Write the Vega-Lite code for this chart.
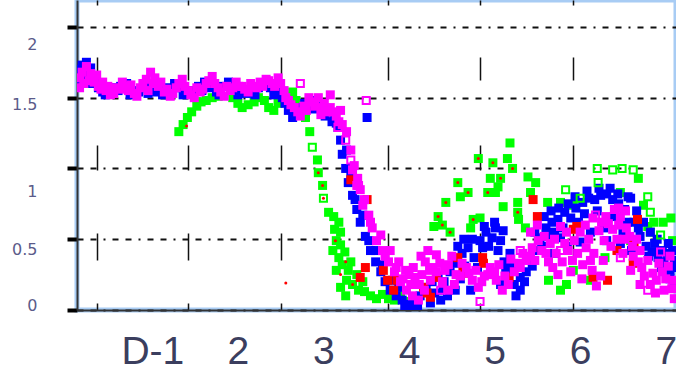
{
"$schema": "https://vega.github.io/schema/vega-lite/v6.json",
"width": 599,
"height": 310,
"autosize": {"type": "none"},
"padding": {"left": 77, "top": 0, "right": 0, "bottom": 73},
"background": "white",
"config": {"view": {"stroke": "#a8ccf4", "strokeWidth": 5},
"axisY": {"title": null, "grid": true, "gridColor": "#111111", "gridWidth": 2, "gridDash": [6, 7, 6, 7, 2, 7], "domain": true, "domainColor": "#333333", "domainWidth": 2, "ticks": true, "tickColor": "#000000", "tickWidth": 4, "tickSize": 10, "labels": true, "labelFontSize": 16, "labelFont": "DejaVu Sans", "labelColor": "#5b5b8a", "labelPadding": 30}},
"datasets": {
"pts": [
{"s":"G","x":1.31,"y":1.26},{"s":"G","x":1.36,"y":1.31},{"s":"G","x":1.41,"y":1.36},{"s":"G","x":1.46,"y":1.40},{"s":"G","x":1.52,"y":1.44},{"s":"G","x":1.57,"y":1.47},{"s":"G","x":1.63,"y":1.48},{"s":"G","x":1.70,"y":1.50},{"s":"G","x":1.77,"y":1.51},{"s":"G","x":1.94,"y":1.50},{"s":"G","x":2.00,"y":1.46},{"s":"G","x":2.05,"y":1.43},{"s":"G","x":2.12,"y":1.45},{"s":"G","x":2.19,"y":1.47},{"s":"G","x":2.24,"y":1.50},{"s":"G","x":2.31,"y":1.48},{"s":"G","x":2.36,"y":1.43},{"s":"G","x":2.42,"y":1.41},{"s":"G","x":2.47,"y":1.46},{"s":"G","x":2.52,"y":1.50},{"s":"G","x":2.57,"y":1.51},{"s":"G","x":2.64,"y":1.54},{"s":"G","x":2.68,"y":1.48},{"s":"G","x":2.73,"y":1.44},{"s":"G","x":2.79,"y":1.36},{"s":"G","x":2.84,"y":1.26},{"s":"G","x":2.93,"y":1.06},{"s":"G","x":2.94,"y":0.97},{"s":"G","x":2.99,"y":0.88},{"s":"G","x":3.06,"y":0.69},{"s":"G","x":3.12,"y":0.66},{"s":"G","x":3.18,"y":0.62},{"s":"G","x":3.15,"y":0.49},{"s":"G","x":3.20,"y":0.46},{"s":"G","x":3.25,"y":0.41},{"s":"G","x":3.18,"y":0.37},{"s":"G","x":3.22,"y":0.32},{"s":"G","x":3.29,"y":0.28},{"s":"G","x":3.27,"y":0.21},{"s":"G","x":3.34,"y":0.18},{"s":"G","x":3.41,"y":0.14},{"s":"G","x":3.48,"y":0.13},{"s":"G","x":3.55,"y":0.10},{"s":"G","x":3.62,"y":0.08},{"s":"G","x":3.69,"y":0.11},{"s":"G","x":3.76,"y":0.08},{"s":"G","x":3.83,"y":0.07},{"s":"G","x":3.90,"y":0.10},{"s":"G","x":3.97,"y":0.06},{"s":"G","x":3.32,"y":0.34},{"s":"G","x":3.39,"y":0.25},{"s":"G","x":3.46,"y":0.20},{"s":"G","x":3.20,"y":0.55},{"s":"G","x":3.13,"y":0.57},{"s":"G","x":3.11,"y":0.42},{"s":"G","x":3.15,"y":0.28},{"s":"G","x":3.20,"y":0.16},{"s":"G","x":3.26,"y":0.10},
{"s":"G","x":5.18,"y":1.18},{"s":"G","x":4.81,"y":1.07},{"s":"G","x":4.98,"y":1.04},{"s":"G","x":5.15,"y":1.07},{"s":"G","x":5.21,"y":1.00},{"s":"G","x":4.57,"y":0.90},{"s":"G","x":4.95,"y":0.93},{"s":"G","x":5.07,"y":0.93},{"s":"G","x":5.04,"y":0.87},{"s":"G","x":4.69,"y":0.83},{"s":"G","x":4.60,"y":0.80},{"s":"G","x":4.92,"y":0.83},{"s":"G","x":5.01,"y":0.83},{"s":"G","x":5.39,"y":0.94},{"s":"G","x":5.48,"y":0.90},{"s":"G","x":5.42,"y":0.83},{"s":"G","x":5.27,"y":0.76},{"s":"G","x":4.43,"y":0.76},{"s":"G","x":5.10,"y":0.73},{"s":"G","x":4.34,"y":0.66},{"s":"G","x":4.39,"y":0.60},{"s":"G","x":4.29,"y":0.59},{"s":"G","x":4.48,"y":0.55},{"s":"G","x":4.75,"y":0.64},{"s":"G","x":4.83,"y":0.65},{"s":"G","x":5.27,"y":0.69},{"s":"G","x":5.28,"y":0.64},{"s":"G","x":5.36,"y":0.58},{"s":"G","x":4.72,"y":0.58},{"s":"G","x":5.62,"y":0.76},{"s":"G","x":5.77,"y":0.76},{"s":"G","x":5.92,"y":0.74},{"s":"G","x":6.47,"y":0.83},{"s":"G","x":6.74,"y":0.74},{"s":"G","x":6.86,"y":0.62},{"s":"G","x":6.79,"y":0.59},{"s":"G","x":6.97,"y":0.62},{"s":"G","x":7.06,"y":0.65},{"s":"G","x":6.82,"y":0.55},{"s":"G","x":7.08,"y":0.49},{"s":"G","x":5.77,"y":0.14},{"s":"G","x":6.12,"y":0.21},{"s":"G","x":5.92,"y":0.28},{"s":"G","x":5.63,"y":0.21},{"s":"G","x":5.84,"y":0.18},{"s":"G","x":6.29,"y":0.37},{"s":"G","x":6.59,"y":0.49},{"s":"G","x":6.68,"y":0.93},
{"s":"B","x":0.14,"y":1.63},{"s":"B","x":0.16,"y":1.70},{"s":"B","x":0.18,"y":1.73},{"s":"B","x":0.23,"y":1.75},{"s":"B","x":0.28,"y":1.71},{"s":"B","x":0.32,"y":1.64},{"s":"B","x":0.37,"y":1.57},{"s":"B","x":0.42,"y":1.54},{"s":"B","x":0.49,"y":1.55},{"s":"B","x":0.56,"y":1.57},{"s":"B","x":0.63,"y":1.58},{"s":"B","x":0.70,"y":1.60},{"s":"B","x":0.77,"y":1.55},{"s":"B","x":0.84,"y":1.54},{"s":"B","x":0.91,"y":1.57},{"s":"B","x":0.98,"y":1.59},{"s":"B","x":1.05,"y":1.54},{"s":"B","x":1.12,"y":1.52},{"s":"B","x":1.19,"y":1.57},{"s":"B","x":1.26,"y":1.60},{"s":"B","x":1.33,"y":1.57},{"s":"B","x":1.40,"y":1.54},{"s":"B","x":1.47,"y":1.55},{"s":"B","x":1.54,"y":1.58},{"s":"B","x":1.61,"y":1.61},{"s":"B","x":1.68,"y":1.57},{"s":"B","x":1.75,"y":1.54},{"s":"B","x":1.82,"y":1.58},{"s":"B","x":1.89,"y":1.61},{"s":"B","x":1.96,"y":1.57},{"s":"B","x":2.03,"y":1.55},{"s":"B","x":2.10,"y":1.53},{"s":"B","x":2.17,"y":1.54},{"s":"B","x":2.24,"y":1.57},{"s":"B","x":2.31,"y":1.60},{"s":"B","x":2.38,"y":1.57},{"s":"B","x":2.45,"y":1.54},{"s":"B","x":2.52,"y":1.50},{"s":"B","x":2.59,"y":1.41},{"s":"B","x":2.64,"y":1.36},{"s":"B","x":2.71,"y":1.40},{"s":"B","x":2.78,"y":1.46},{"s":"B","x":2.85,"y":1.48},{"s":"B","x":2.92,"y":1.44},{"s":"B","x":2.99,"y":1.41},{"s":"B","x":3.06,"y":1.40},{"s":"B","x":3.13,"y":1.36},{"s":"B","x":3.17,"y":1.29},{"s":"B","x":3.20,"y":1.20},{"s":"B","x":3.22,"y":1.10},{"s":"B","x":3.26,"y":1.00},{"s":"B","x":3.29,"y":0.90},{"s":"B","x":3.34,"y":0.81},{"s":"B","x":3.39,"y":0.71},{"s":"B","x":3.43,"y":0.62},{"s":"B","x":3.49,"y":0.52},{"s":"B","x":3.55,"y":0.42},{"s":"B","x":3.61,"y":0.34},{"s":"B","x":3.67,"y":0.27},{"s":"B","x":3.72,"y":0.20},{"s":"B","x":3.78,"y":0.14},{"s":"B","x":3.85,"y":0.10},{"s":"B","x":3.92,"y":0.07},{"s":"B","x":3.99,"y":0.04},{"s":"B","x":4.06,"y":0.07},{"s":"B","x":4.13,"y":0.10},{"s":"B","x":4.20,"y":0.16},{"s":"B","x":4.27,"y":0.20},{"s":"B","x":4.34,"y":0.24},{"s":"B","x":4.41,"y":0.20},{"s":"B","x":4.48,"y":0.27},{"s":"B","x":4.55,"y":0.33},{"s":"B","x":4.62,"y":0.40},{"s":"B","x":4.69,"y":0.44},{"s":"B","x":4.76,"y":0.37},{"s":"B","x":4.83,"y":0.49},{"s":"B","x":4.90,"y":0.55},{"s":"B","x":4.97,"y":0.51},{"s":"B","x":5.04,"y":0.42},{"s":"B","x":5.11,"y":0.34},{"s":"B","x":5.16,"y":0.24},{"s":"B","x":5.23,"y":0.18},{"s":"B","x":5.30,"y":0.23},{"s":"B","x":5.37,"y":0.27},{"s":"B","x":5.44,"y":0.31},{"s":"B","x":5.49,"y":0.42},{"s":"B","x":5.53,"y":0.51},{"s":"B","x":5.60,"y":0.58},{"s":"B","x":5.67,"y":0.62},{"s":"B","x":5.74,"y":0.64},{"s":"B","x":5.82,"y":0.69},{"s":"B","x":5.89,"y":0.65},{"s":"B","x":5.95,"y":0.72},{"s":"B","x":6.03,"y":0.76},{"s":"B","x":6.10,"y":0.79},{"s":"B","x":6.17,"y":0.78},{"s":"B","x":6.24,"y":0.81},{"s":"B","x":6.31,"y":0.82},{"s":"B","x":6.38,"y":0.78},{"s":"B","x":6.45,"y":0.75},{"s":"B","x":6.52,"y":0.71},{"s":"B","x":6.59,"y":0.79},{"s":"B","x":6.63,"y":0.62},{"s":"B","x":6.70,"y":0.52},{"s":"B","x":6.77,"y":0.45},{"s":"B","x":6.84,"y":0.41},{"s":"B","x":6.91,"y":0.37},{"s":"B","x":6.98,"y":0.34},{"s":"B","x":7.05,"y":0.28},{"s":"B","x":7.10,"y":0.20},{"s":"B","x":5.63,"y":0.52},{"s":"B","x":5.77,"y":0.51},{"s":"B","x":6.12,"y":0.55},{"s":"B","x":6.31,"y":0.49},{"s":"B","x":6.47,"y":0.47},{"s":"B","x":6.87,"y":0.47},{"s":"B","x":7.03,"y":0.47},{"s":"B","x":7.08,"y":0.42},{"s":"B","x":3.51,"y":1.36},{"s":"B","x":7.10,"y":0.35},{"s":"B","x":4.37,"y":0.07},{"s":"B","x":4.54,"y":0.14},{"s":"B","x":4.72,"y":0.14},{"s":"B","x":5.07,"y":0.18},{"s":"B","x":5.30,"y":0.14},{"s":"B","x":4.02,"y":0.03},{"s":"B","x":3.27,"y":1.13},{"s":"B","x":3.32,"y":0.95},{"s":"B","x":3.37,"y":0.78},{"s":"B","x":3.46,"y":0.67},{"s":"B","x":3.53,"y":0.49},{"s":"B","x":3.61,"y":0.42},{"s":"B","x":3.69,"y":0.32},{"s":"B","x":3.81,"y":0.21},{"s":"B","x":3.88,"y":0.16},{"s":"B","x":4.88,"y":0.59},{"s":"B","x":5.01,"y":0.58},{"s":"B","x":5.07,"y":0.49},{"s":"B","x":4.65,"y":0.31},
{"s":"B","x":0.20,"y":1.66},{"s":"B","x":0.30,"y":1.60},{"s":"B","x":0.45,"y":1.52},{"s":"B","x":0.60,"y":1.55},{"s":"B","x":0.74,"y":1.52},{"s":"B","x":0.95,"y":1.53},{"s":"B","x":1.15,"y":1.55},{"s":"B","x":1.36,"y":1.52},{"s":"B","x":1.58,"y":1.55},{"s":"B","x":1.78,"y":1.52},{"s":"B","x":2.00,"y":1.52},{"s":"B","x":2.20,"y":1.52},{"s":"B","x":2.42,"y":1.52},{"s":"B","x":2.55,"y":1.46},{"s":"B","x":2.67,"y":1.38},{"s":"B","x":2.75,"y":1.43},{"s":"B","x":2.88,"y":1.42},{"s":"B","x":3.02,"y":1.37},{"s":"B","x":3.10,"y":1.33},{"s":"B","x":3.15,"y":1.32},
{"s":"B","x":4.45,"y":0.10},{"s":"B","x":4.60,"y":0.22},{"s":"B","x":4.80,"y":0.30},{"s":"B","x":4.93,"y":0.45},{"s":"B","x":5.13,"y":0.28},{"s":"B","x":5.20,"y":0.30},{"s":"B","x":5.40,"y":0.37},{"s":"B","x":5.55,"y":0.45},{"s":"B","x":5.70,"y":0.55},{"s":"B","x":5.80,"y":0.58},{"s":"B","x":5.98,"y":0.62},{"s":"B","x":6.05,"y":0.68},{"s":"B","x":6.20,"y":0.70},{"s":"B","x":6.40,"y":0.66},{"s":"B","x":6.55,"y":0.62},{"s":"B","x":6.68,"y":0.58},{"s":"B","x":6.80,"y":0.38},{"s":"B","x":6.95,"y":0.30},{"s":"B","x":7.05,"y":0.22},{"s":"B","x":4.10,"y":0.03},{"s":"B","x":4.30,"y":0.12},{"s":"B","x":3.95,"y":0.02},
{"s":"B","x":4.25,"y":0.05},{"s":"B","x":4.40,"y":0.14},{"s":"B","x":4.57,"y":0.45},{"s":"B","x":4.64,"y":0.50},{"s":"B","x":4.74,"y":0.50},{"s":"B","x":4.86,"y":0.44},{"s":"B","x":5.00,"y":0.62},{"s":"B","x":5.10,"y":0.56},{"s":"B","x":5.18,"y":0.40},{"s":"B","x":5.25,"y":0.10},{"s":"B","x":5.35,"y":0.20},{"s":"B","x":5.47,"y":0.55},{"s":"B","x":5.58,"y":0.66},{"s":"B","x":5.66,"y":0.70},{"s":"B","x":5.75,"y":0.72},{"s":"B","x":5.86,"y":0.75},{"s":"B","x":5.94,"y":0.80},{"s":"B","x":6.08,"y":0.84},{"s":"B","x":6.22,"y":0.86},{"s":"B","x":6.35,"y":0.86},{"s":"B","x":6.44,"y":0.82},{"s":"B","x":6.56,"y":0.80},{"s":"B","x":6.66,"y":0.70},{"s":"B","x":6.74,"y":0.62},{"s":"B","x":6.82,"y":0.55},{"s":"B","x":6.90,"y":0.50},{"s":"B","x":6.96,"y":0.42},{"s":"B","x":7.02,"y":0.40},{"s":"B","x":7.08,"y":0.30},{"s":"B","x":6.60,"y":0.42},{"s":"B","x":6.50,"y":0.55},{"s":"B","x":6.28,"y":0.58},{"s":"B","x":6.00,"y":0.48},{"s":"B","x":5.85,"y":0.45},{"s":"B","x":5.70,"y":0.40},
{"s":"R","x":3.32,"y":0.92},{"s":"R","x":3.51,"y":0.78},{"s":"R","x":3.49,"y":0.30},{"s":"R","x":3.70,"y":0.28},{"s":"R","x":3.75,"y":0.21},{"s":"R","x":3.86,"y":0.21},{"s":"R","x":3.43,"y":0.23},{"s":"R","x":3.82,"y":0.14},{"s":"R","x":4.57,"y":0.37},{"s":"R","x":4.66,"y":0.26},{"s":"R","x":4.86,"y":0.37},{"s":"R","x":4.87,"y":0.33},{"s":"R","x":4.17,"y":0.16},{"s":"R","x":4.25,"y":0.09},{"s":"R","x":5.45,"y":0.78},{"s":"R","x":5.50,"y":0.66},{"s":"R","x":5.92,"y":0.57},{"s":"R","x":6.43,"y":0.42},{"s":"R","x":6.67,"y":0.64},{"s":"R","x":6.32,"y":0.21},{"s":"R","x":6.15,"y":0.23},{"s":"R","x":6.62,"y":0.33},{"s":"R","x":4.21,"y":0.12},{"s":"R","x":4.32,"y":0.23},{"s":"R","x":4.63,"y":0.30},{"s":"R","x":5.17,"y":0.23},{"s":"R","x":6.63,"y":0.47},{"s":"R","x":5.96,"y":0.59},
{"s":"M","x":0.15,"y":1.64},{"s":"M","x":0.15,"y":1.57},{"s":"M","x":0.18,"y":1.68},{"s":"M","x":0.23,"y":1.72},{"s":"M","x":0.28,"y":1.67},{"s":"M","x":0.32,"y":1.61},{"s":"M","x":0.37,"y":1.58},{"s":"M","x":0.42,"y":1.61},{"s":"M","x":0.46,"y":1.55},{"s":"M","x":0.51,"y":1.52},{"s":"M","x":0.58,"y":1.57},{"s":"M","x":0.65,"y":1.61},{"s":"M","x":0.72,"y":1.55},{"s":"M","x":0.79,"y":1.53},{"s":"M","x":0.86,"y":1.57},{"s":"M","x":0.93,"y":1.63},{"s":"M","x":0.98,"y":1.68},{"s":"M","x":1.03,"y":1.64},{"s":"M","x":1.07,"y":1.58},{"s":"M","x":1.14,"y":1.54},{"s":"M","x":1.21,"y":1.51},{"s":"M","x":1.28,"y":1.57},{"s":"M","x":1.35,"y":1.63},{"s":"M","x":1.42,"y":1.55},{"s":"M","x":1.49,"y":1.50},{"s":"M","x":1.56,"y":1.54},{"s":"M","x":1.63,"y":1.60},{"s":"M","x":1.70,"y":1.65},{"s":"M","x":1.77,"y":1.57},{"s":"M","x":1.84,"y":1.51},{"s":"M","x":1.91,"y":1.55},{"s":"M","x":1.98,"y":1.61},{"s":"M","x":2.05,"y":1.58},{"s":"M","x":2.12,"y":1.54},{"s":"M","x":2.19,"y":1.58},{"s":"M","x":2.26,"y":1.61},{"s":"M","x":2.33,"y":1.63},{"s":"M","x":2.40,"y":1.60},{"s":"M","x":2.47,"y":1.64},{"s":"M","x":2.54,"y":1.55},{"s":"M","x":2.59,"y":1.48},{"s":"M","x":2.66,"y":1.43},{"s":"M","x":2.73,"y":1.37},{"s":"M","x":2.80,"y":1.41},{"s":"M","x":2.87,"y":1.47},{"s":"M","x":2.94,"y":1.50},{"s":"M","x":3.01,"y":1.46},{"s":"M","x":3.08,"y":1.43},{"s":"M","x":3.15,"y":1.37},{"s":"M","x":3.22,"y":1.31},{"s":"M","x":3.27,"y":1.26},{"s":"M","x":3.32,"y":1.13},{"s":"M","x":3.36,"y":1.02},{"s":"M","x":3.40,"y":0.93},{"s":"M","x":3.43,"y":0.85},{"s":"M","x":3.48,"y":0.78},{"s":"M","x":3.53,"y":0.67},{"s":"M","x":3.57,"y":0.58},{"s":"M","x":3.62,"y":0.49},{"s":"M","x":3.69,"y":0.42},{"s":"M","x":3.76,"y":0.34},{"s":"M","x":3.83,"y":0.27},{"s":"M","x":3.90,"y":0.20},{"s":"M","x":3.97,"y":0.14},{"s":"M","x":4.04,"y":0.10},{"s":"M","x":4.11,"y":0.07},{"s":"M","x":4.18,"y":0.14},{"s":"M","x":4.25,"y":0.21},{"s":"M","x":4.32,"y":0.27},{"s":"M","x":4.39,"y":0.20},{"s":"M","x":4.46,"y":0.14},{"s":"M","x":4.53,"y":0.18},{"s":"M","x":4.60,"y":0.24},{"s":"M","x":4.67,"y":0.30},{"s":"M","x":4.74,"y":0.21},{"s":"M","x":4.81,"y":0.16},{"s":"M","x":4.88,"y":0.24},{"s":"M","x":4.95,"y":0.30},{"s":"M","x":5.02,"y":0.21},{"s":"M","x":5.09,"y":0.14},{"s":"M","x":5.16,"y":0.18},{"s":"M","x":5.23,"y":0.27},{"s":"M","x":5.30,"y":0.30},{"s":"M","x":5.37,"y":0.35},{"s":"M","x":5.44,"y":0.44},{"s":"M","x":5.51,"y":0.49},{"s":"M","x":5.58,"y":0.52},{"s":"M","x":5.65,"y":0.47},{"s":"M","x":5.72,"y":0.40},{"s":"M","x":5.79,"y":0.34},{"s":"M","x":5.86,"y":0.42},{"s":"M","x":5.93,"y":0.49},{"s":"M","x":6.00,"y":0.55},{"s":"M","x":6.07,"y":0.44},{"s":"M","x":6.14,"y":0.28},{"s":"M","x":6.19,"y":0.17},{"s":"M","x":6.24,"y":0.24},{"s":"M","x":6.28,"y":0.49},{"s":"M","x":6.33,"y":0.61},{"s":"M","x":6.40,"y":0.71},{"s":"M","x":6.47,"y":0.66},{"s":"M","x":6.54,"y":0.58},{"s":"M","x":6.61,"y":0.45},{"s":"M","x":6.68,"y":0.34},{"s":"M","x":6.75,"y":0.24},{"s":"M","x":6.82,"y":0.18},{"s":"M","x":6.89,"y":0.21},{"s":"M","x":6.96,"y":0.27},{"s":"M","x":7.03,"y":0.31},{"s":"M","x":7.08,"y":0.21},{"s":"M","x":7.10,"y":0.08},{"s":"M","x":3.78,"y":0.42},{"s":"M","x":3.88,"y":0.34},{"s":"M","x":3.96,"y":0.28},{"s":"M","x":4.07,"y":0.23},{"s":"M","x":4.19,"y":0.34},{"s":"M","x":4.32,"y":0.39},{"s":"M","x":4.46,"y":0.32},{"s":"M","x":3.67,"y":0.53},{"s":"M","x":4.02,"y":0.18},{"s":"M","x":6.06,"y":0.60},{"s":"M","x":6.12,"y":0.35},{"s":"M","x":5.77,"y":0.59},{"s":"M","x":5.63,"y":0.34},{"s":"M","x":5.89,"y":0.27},{"s":"M","x":6.38,"y":0.57},{"s":"M","x":6.70,"y":0.42},{"s":"M","x":6.59,"y":0.28},{"s":"M","x":3.34,"y":0.99},{"s":"M","x":3.39,"y":0.88},{"s":"M","x":3.46,"y":0.74},{"s":"M","x":3.55,"y":0.62},{"s":"M","x":2.97,"y":1.38},{"s":"M","x":3.08,"y":1.52},{"s":"M","x":3.20,"y":1.41},
{"s":"M","x":0.20,"y":1.60},{"s":"M","x":0.26,"y":1.62},{"s":"M","x":0.35,"y":1.66},{"s":"M","x":0.40,"y":1.56},{"s":"M","x":0.48,"y":1.58},{"s":"M","x":0.55,"y":1.53},{"s":"M","x":0.62,"y":1.56},{"s":"M","x":0.68,"y":1.58},{"s":"M","x":0.75,"y":1.59},{"s":"M","x":0.82,"y":1.51},{"s":"M","x":0.89,"y":1.60},{"s":"M","x":0.95,"y":1.55},{"s":"M","x":1.01,"y":1.60},{"s":"M","x":1.10,"y":1.61},{"s":"M","x":1.17,"y":1.56},{"s":"M","x":1.24,"y":1.53},{"s":"M","x":1.31,"y":1.60},{"s":"M","x":1.38,"y":1.58},{"s":"M","x":1.45,"y":1.52},{"s":"M","x":1.52,"y":1.57},{"s":"M","x":1.59,"y":1.56},{"s":"M","x":1.66,"y":1.62},{"s":"M","x":1.73,"y":1.60},{"s":"M","x":1.80,"y":1.54},{"s":"M","x":1.87,"y":1.58},{"s":"M","x":1.94,"y":1.57},{"s":"M","x":2.01,"y":1.58},{"s":"M","x":2.08,"y":1.56},{"s":"M","x":2.15,"y":1.60},{"s":"M","x":2.22,"y":1.57},{"s":"M","x":2.29,"y":1.58},{"s":"M","x":2.36,"y":1.62},{"s":"M","x":2.43,"y":1.58},{"s":"M","x":2.50,"y":1.60},{"s":"M","x":2.56,"y":1.50},{"s":"M","x":2.62,"y":1.45},{"s":"M","x":2.70,"y":1.40},{"s":"M","x":2.77,"y":1.44},{"s":"M","x":2.83,"y":1.50},{"s":"M","x":2.90,"y":1.44},{"s":"M","x":2.98,"y":1.43},{"s":"M","x":3.04,"y":1.40},{"s":"M","x":3.11,"y":1.40},{"s":"M","x":3.18,"y":1.33},
{"s":"M","x":4.15,"y":0.25},{"s":"M","x":4.28,"y":0.30},{"s":"M","x":4.42,"y":0.28},{"s":"M","x":4.55,"y":0.25},{"s":"M","x":4.70,"y":0.26},{"s":"M","x":4.85,"y":0.20},{"s":"M","x":5.00,"y":0.27},{"s":"M","x":5.12,"y":0.24},{"s":"M","x":5.28,"y":0.33},{"s":"M","x":5.42,"y":0.38},{"s":"M","x":5.55,"y":0.42},{"s":"M","x":5.70,"y":0.50},{"s":"M","x":5.82,"y":0.47},{"s":"M","x":5.97,"y":0.40},{"s":"M","x":6.03,"y":0.32},{"s":"M","x":6.10,"y":0.50},{"s":"M","x":6.22,"y":0.56},{"s":"M","x":6.30,"y":0.66},{"s":"M","x":6.45,"y":0.60},{"s":"M","x":6.52,"y":0.50},{"s":"M","x":6.62,"y":0.38},{"s":"M","x":6.72,"y":0.30},{"s":"M","x":6.85,"y":0.26},{"s":"M","x":7.00,"y":0.22},{"s":"M","x":7.07,"y":0.15},{"s":"M","x":3.72,"y":0.38},{"s":"M","x":3.85,"y":0.30},{"s":"M","x":3.93,"y":0.22},{"s":"M","x":4.00,"y":0.25},{"s":"M","x":4.12,"y":0.18},{"s":"M","x":4.24,"y":0.28},
{"s":"M","x":4.05,"y":0.30},{"s":"M","x":4.14,"y":0.38},{"s":"M","x":4.22,"y":0.42},{"s":"M","x":4.36,"y":0.33},{"s":"M","x":4.50,"y":0.38},{"s":"M","x":4.62,"y":0.33},{"s":"M","x":4.78,"y":0.28},{"s":"M","x":4.92,"y":0.25},{"s":"M","x":5.05,"y":0.32},{"s":"M","x":5.19,"y":0.36},{"s":"M","x":5.33,"y":0.40},{"s":"M","x":5.47,"y":0.35},{"s":"M","x":5.60,"y":0.40},{"s":"M","x":5.68,"y":0.30},{"s":"M","x":5.74,"y":0.25},{"s":"M","x":5.84,"y":0.55},{"s":"M","x":5.91,"y":0.35},{"s":"M","x":6.02,"y":0.22},{"s":"M","x":6.16,"y":0.40},{"s":"M","x":6.27,"y":0.35},{"s":"M","x":6.36,"y":0.45},{"s":"M","x":6.43,"y":0.50},{"s":"M","x":6.50,"y":0.40},{"s":"M","x":6.58,"y":0.52},{"s":"M","x":6.66,"y":0.50},{"s":"M","x":6.79,"y":0.35},{"s":"M","x":6.92,"y":0.33},{"s":"M","x":7.05,"y":0.38},{"s":"M","x":6.98,"y":0.14},{"s":"M","x":6.88,"y":0.12},{"s":"M","x":6.70,"y":0.18},{"s":"M","x":6.53,"y":0.70},{"s":"M","x":6.45,"y":0.72},{"s":"M","x":6.25,"y":0.62},{"s":"M","x":6.15,"y":0.65},{"s":"M","x":5.50,"y":0.60},{"s":"M","x":5.42,"y":0.55},
{"s":"G2","x":6.20,"y":1.00},{"s":"G2","x":6.38,"y":0.99},{"s":"G2","x":6.49,"y":1.00},{"s":"G2","x":6.62,"y":0.99},{"s":"G2","x":6.21,"y":0.90},{"s":"G2","x":6.00,"y":0.79},{"s":"G2","x":5.83,"y":0.85},{"s":"G2","x":6.79,"y":0.80},{"s":"G2","x":2.87,"y":1.15},{"s":"G2","x":3.00,"y":0.79},{"s":"G2","x":6.82,"y":0.69},{"s":"G2","x":6.94,"y":0.53},
{"s":"M2","x":2.73,"y":1.60},{"s":"M2","x":3.50,"y":1.48},{"s":"M2","x":3.17,"y":1.29},{"s":"M2","x":3.26,"y":1.20},{"s":"M2","x":3.32,"y":1.06},{"s":"M2","x":3.41,"y":0.88},{"s":"M2","x":4.83,"y":0.06},{"s":"M2","x":4.37,"y":0.14},{"s":"M2","x":5.30,"y":0.42},{"s":"M2","x":6.47,"y":0.37},{"s":"M2","x":6.79,"y":0.14},{"s":"M2","x":6.94,"y":0.41},{"s":"M2","x":6.18,"y":0.67},{"s":"M2","x":5.77,"y":0.42},
{"s":"R2","x":2.94,"y":0.97},{"s":"R2","x":2.99,"y":0.88},{"s":"R2","x":3.00,"y":0.79},{"s":"R2","x":1.40,"y":1.30},{"s":"R2","x":3.14,"y":0.49},{"s":"R2","x":3.26,"y":0.34},{"s":"R2","x":4.57,"y":0.90},{"s":"R2","x":4.69,"y":0.83},{"s":"R2","x":4.81,"y":1.07},{"s":"R2","x":4.98,"y":1.04},{"s":"R2","x":5.07,"y":0.93},{"s":"R2","x":4.92,"y":0.83},{"s":"R2","x":4.43,"y":0.76},{"s":"R2","x":4.34,"y":0.66},{"s":"R2","x":4.48,"y":0.55},{"s":"R2","x":4.75,"y":0.64},{"s":"R2","x":5.27,"y":0.69},{"s":"R2","x":5.21,"y":1.00},{"s":"R2","x":4.39,"y":0.60},{"s":"R2","x":2.56,"y":0.19},{"s":"R2","x":3.20,"y":0.25},{"s":"R2","x":3.34,"y":0.18}
]
},
"resolve": {"axis": {"x": "independent"}},
"layer": [
{
"data": {"name": "pts"},
"transform": [{"filter": "indexof(['G','B','R','M'], datum.s) >= 0"}],
"mark": {"type": "point", "shape": "square", "filled": true, "size": 81, "opacity": 1, "clip": true},
"encoding": {
"x": {"field": "x", "type": "quantitative", "scale": {"domain": [0.12, 7.12], "nice": false, "zero": false},
"axis": {"orient": "bottom", "values": [1,2,3,4,5,6,7], "labelExpr": "datum.value == 1 ? 'D-1' : datum.label", "title": null, "grid": false, "ticks": false, "tickSize": 0, "domain": true, "domainColor": "#333333", "domainWidth": 2, "labelFontSize": 39, "labelFont": "Liberation Sans", "labelColor": "#3b3e5e", "labelPadding": 22, "labelFlush": false, "labelOverlap": false}},
"y": {"field": "y", "type": "quantitative", "scale": {"domain": [0, 2.19], "nice": false, "zero": false},
"axis": {"values": [0, 0.5, 1, 1.5, 2], "format": "~g", "labelOffset": {"condition": [{"test": "datum.value == 2", "value": 18}, {"test": "datum.value == 1", "value": 23}, {"test": "datum.value == 0", "value": -5}, {"test": "datum.value == 1.5", "value": 7}], "value": 10}}},
"color": {"field": "s", "type": "nominal", "legend": null,
"scale": {"domain": ["G","G2","B","R","M","M2","R2"], "range": ["#00ff00","#00ff00","#0000ff","#ff0000","#ff00ff","#ff00ff","#ff0000"]}}
}
},
{
"data": {"name": "pts"},
"transform": [{"filter": "datum.s == 'G2' || datum.s == 'M2'"}],
"mark": {"type": "point", "shape": "square", "filled": false, "size": 50, "strokeWidth": 2, "opacity": 1, "clip": true},
"encoding": {
"x": {"field": "x", "type": "quantitative",
"axis": {"orient": "bottom", "values": [0.348, 1.423, 2.509, 3.759, 4.834, 5.92], "labels": false, "ticks": false, "domain": false, "title": null, "grid": true, "gridColor": "#111111", "gridWidth": 1.5, "gridDash": [5, 52, 23, 65, 25, 63, 27, 43, 10, 100]}},
"y": {"field": "y", "type": "quantitative",
"axis": {"values": [0, 0.5, 1, 1.5, 2], "format": "~g", "labelOffset": {"condition": [{"test": "datum.value == 2", "value": 18}, {"test": "datum.value == 1", "value": 23}, {"test": "datum.value == 0", "value": -5}, {"test": "datum.value == 1.5", "value": 7}], "value": 10}}},
"color": {"field": "s", "type": "nominal", "legend": null}
}
},
{
"data": {"name": "pts"},
"transform": [{"filter": "datum.s == 'R2'"}],
"mark": {"type": "point", "shape": "circle", "filled": true, "size": 9, "opacity": 1, "clip": true},
"encoding": {
"x": {"field": "x", "type": "quantitative", "axis": null},
"y": {"field": "y", "type": "quantitative",
"axis": {"values": [0, 0.5, 1, 1.5, 2], "format": "~g", "labelOffset": {"condition": [{"test": "datum.value == 2", "value": 18}, {"test": "datum.value == 1", "value": 23}, {"test": "datum.value == 0", "value": -5}, {"test": "datum.value == 1.5", "value": 7}], "value": 10}}},
"color": {"field": "s", "type": "nominal", "legend": null}
}
}
]
}
